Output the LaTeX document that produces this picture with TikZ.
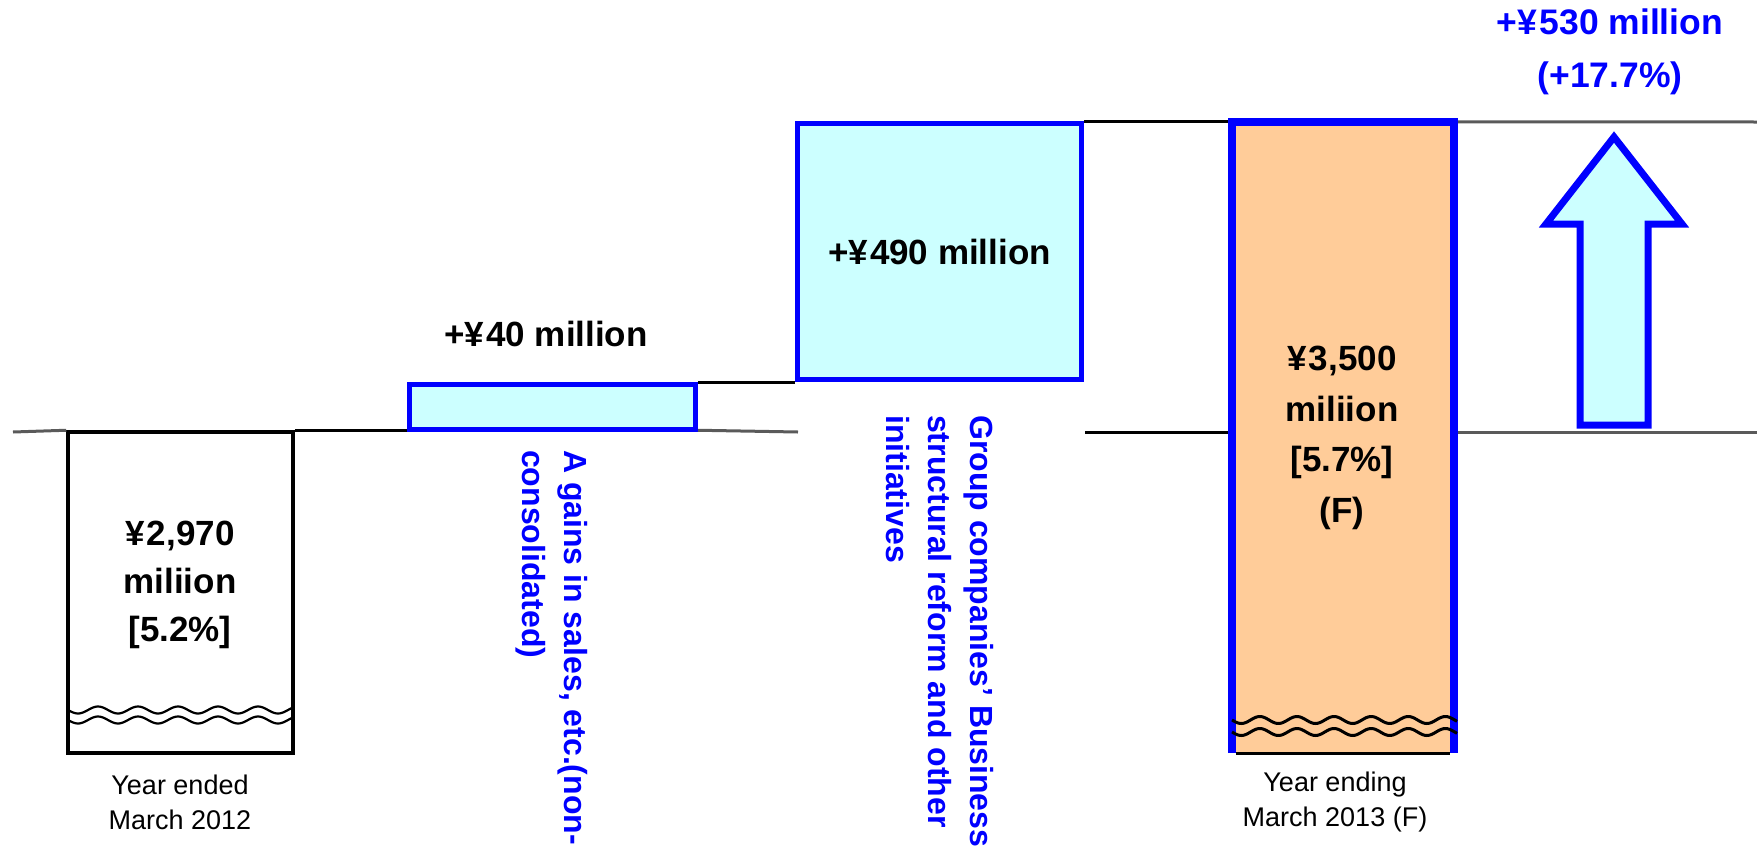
\documentclass[tikz,border=0pt]{standalone}
\usepackage{fontspec}
\setmainfont{Liberation Sans}
\definecolor{bblue}{RGB}{0,0,255}
\definecolor{lcyan}{RGB}{204,255,255}
\definecolor{lorange}{RGB}{255,204,153}
\definecolor{lgray}{RGB}{90,90,90}
\newcommand{\yn}{¥\kern0.06em}
\begin{document}
\begin{tikzpicture}[x=1pt,y=-1pt,
  bigtxt/.style={font=\fontsize{35}{48}\selectfont\bfseries, align=center, inner sep=0pt},
  yeartxt/.style={font=\fontsize{27}{35}\selectfont, align=center, inner sep=0pt},
  vtxt/.style={font=\fontsize{32}{42}\selectfont\bfseries, text=bblue, align=left, rotate=-90, anchor=north west, inner sep=0pt},
  barbox/.style={draw, rectangle, inner sep=0pt},
  blkline/.style={draw=black, line width=3pt},
  grayline/.style={draw=lgray, line width=3pt},
  wave/.style={draw=black, line width=2.2pt}
]
\useasboundingbox (0,0) rectangle (1757,846);

% boxes
\node[barbox, draw=black, line width=3.5pt, fill=white, minimum width=225pt, minimum height=321pt] (b1) at (180.5,592.5) {};
\node[barbox, draw=bblue, line width=5pt, fill=lcyan, minimum width=286pt, minimum height=45pt] (b2) at (552.5,407) {};
\node[barbox, draw=bblue, line width=5pt, fill=lcyan, minimum width=284pt, minimum height=256pt, bigtxt] (b3) at (939.5,251.5) {+\yn490 million};
\node[barbox, draw=none, fill=lorange, minimum width=222pt, minimum height=631pt] (b4) at (1343,437.5) {};

% connecting lines
\coordinate (l0) at (13,432);
\coordinate (g1) at (798,432);
\coordinate (g2) at (1085,432);
\coordinate (r1) at (1757,432);
\coordinate (r2) at (1757,122);
\draw[grayline] (l0) -- (b1.north west);
\draw[blkline] (b1.north east) -- (b2.west |- b1.north east);
\draw[grayline] (b2.east |- b1.north east) -- (g1);
\draw[blkline] (g2) -- (b4.west |- g2);
\draw[grayline] (b4.east |- r1) -- (r1);
\draw[blkline] (b2.north east) -- (b3.south west |- b2.north east);
\draw[blkline] (b3.north east) -- (b4.north west |- b3.north east);
\draw[grayline] (b4.north east) -- (r2);

% box 4 border
\draw[bblue, line width=8pt] (b4.south west) -- (b4.north west) -- (b4.north east) -- (b4.south east);
\draw[black, line width=3pt] ([xshift=4pt]b4.south west) -- ([xshift=-4pt]b4.south east);

% waves box1
\draw[wave] plot[domain=68:293, samples=120, smooth] (\x, {710+3.5*sin(9*(\x-68))});
\draw[wave] plot[domain=68:293, samples=120, smooth] (\x, {720+3.5*sin(9*(\x-68))});
% waves box4
\draw[wave, line width=3pt] plot[domain=1232:1457, samples=120, smooth] (\x, {720+3.5*sin(9.7*(\x-1232))});
\draw[wave, line width=3pt] plot[domain=1232:1457, samples=120, smooth] (\x, {732+3.5*sin(9.7*(\x-1232))});

% texts
\node[bigtxt] (t1) at (180,585) {\yn2,970\\miliion\\{[5.2\%]}};
\node[yeartxt] (y1) at (180,802) {Year ended\\March 2012};
\node[bigtxt] (t2) at (546,334) {+\yn40 million};
\node[bigtxt, font=\fontsize{35}{50.5}\selectfont\bfseries] (t4) at (1342,438) {\yn3,500\\miliion\\{[5.7\%]}\\(F)};
\node[yeartxt] (y4) at (1335,802) {Year ending\\March 2013 (F)};
\node[bigtxt, text=bblue, font=\fontsize{35.5}{53}\selectfont\bfseries] (tt) at (1610,51.5) {+\yn530 million\\(+17.7\%)};

\node[vtxt] (v1) at (588,450) {A gains in sales, etc.(non-\\consolidated)};
\node[vtxt] (v2) at (994,415) {Group companies’ Business\\structural reform and other\\initiatives};

% arrow
\draw[bblue, line width=7pt, fill=lcyan, line join=miter]
  (1614,137) -- (1682,224) -- (1648,224) -- (1648,425) -- (1580,425) -- (1580,224) -- (1546,224) -- cycle;
\end{tikzpicture}
\end{document}
